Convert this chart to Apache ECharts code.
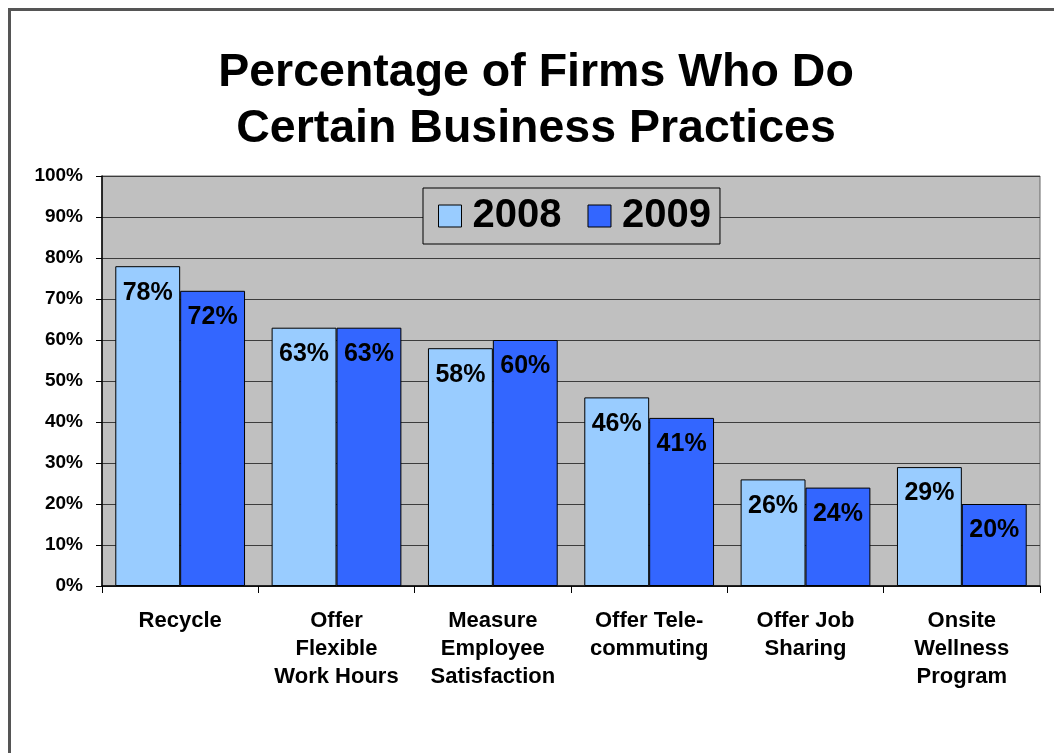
<!DOCTYPE html>
<html>
<head>
<meta charset="utf-8">
<script src="https://cdn.jsdelivr.net/npm/echarts@6/dist/echarts.min.js"></script>
<style>
  html, body { margin: 0; padding: 0; background: #ffffff; }
  #chart { width: 1054px; height: 753px; }
</style>
</head>
<body>
<div id="chart"></div>
<script>
// Survey results: share of firms following each business practice
const categories = [
  'Recycle',
  'Offer\nFlexible\nWork Hours',
  'Measure\nEmployee\nSatisfaction',
  'Offer Tele-\ncommuting',
  'Offer Job\nSharing',
  'Onsite\nWellness\nProgram'
];
const values2008 = [78, 63, 58, 46, 26, 29];
const values2009 = [72, 63, 60, 41, 24, 20];
const seriesNames = ['2008', '2009'];
const titleLines = ['Percentage of Firms Who Do', 'Certain Business Practices'];

const FONT = '"Liberation Sans", Arial, sans-serif';

const chart = echarts.init(document.getElementById('chart'), null, { renderer: 'canvas' });

const barLabel = {
  show: true,
  position: 'insideTop',
  distance: 14,
  formatter: '{c}%',
  color: '#000',
  fontFamily: FONT,
  fontWeight: 'bold',
  fontSize: 25
};

chart.setOption({
  backgroundColor: '#ffffff',
  animation: false,
  title: {
    text: titleLines.join('\n'),
    left: 531,
    textAlign: 'center',
    top: 40,
    textStyle: {
      fontFamily: FONT,
      fontWeight: 'bold',
      fontSize: 46.5,
      lineHeight: 56,
      color: '#000'
    }
  },
  graphic: [
    // page frame along the top and left edges
    { type: 'rect', shape: { x: 8, y: 8, width: 1046, height: 3 }, style: { fill: '#555555' }, z: 10 },
    { type: 'rect', shape: { x: 8, y: 8, width: 3, height: 745 }, style: { fill: '#555555' }, z: 10 }
  ],
  legend: {
    data: seriesNames,
    icon: 'rect',
    left: 423,
    top: 188,
    orient: 'horizontal',
    itemWidth: 23,
    itemHeight: 22,
    itemGap: 26,
    padding: [8, 9, 8, 15],
    backgroundColor: '#C0C0C0',
    borderColor: '#000',
    borderWidth: 1,
    itemStyle: { borderColor: '#000', borderWidth: 1 },
    textStyle: {
      fontFamily: FONT,
      fontWeight: 'bold',
      fontSize: 40,
      color: '#000',
      padding: [0, 0, 0, 6]
    }
  },
  grid: {
    left: 102,
    right: 14,
    top: 176,
    bottom: 167,
    show: true,
    backgroundColor: '#C0C0C0',
    borderColor: '#666',
    borderWidth: 1
  },
  xAxis: {
    type: 'category',
    data: categories,
    axisLine: { show: true, lineStyle: { color: '#000', width: 1.5 } },
    axisTick: { show: true, length: 7, lineStyle: { color: '#000' } },
    axisLabel: {
      interval: 0,
      margin: 21,
      fontFamily: FONT,
      fontWeight: 'bold',
      fontSize: 22,
      lineHeight: 28,
      color: '#000',
      align: 'center'
    }
  },
  yAxis: {
    type: 'value',
    min: 0,
    max: 100,
    interval: 10,
    axisLine: { show: true, lineStyle: { color: '#000', width: 1.5 } },
    axisTick: { show: true, length: 6, lineStyle: { color: '#000' } },
    axisLabel: {
      formatter: '{value}%',
      margin: 19,
      fontFamily: FONT,
      fontWeight: 'bold',
      fontSize: 19,
      color: '#000'
    },
    splitLine: { show: true, lineStyle: { color: '#3c3c3c', width: 1.2 } }
  },
  series: [
    {
      name: seriesNames[0],
      type: 'bar',
      data: values2008,
      barGap: '0%',
      barCategoryGap: '17%',
      itemStyle: { color: '#99CCFF', borderColor: '#000', borderWidth: 1 },
      label: barLabel
    },
    {
      name: seriesNames[1],
      type: 'bar',
      data: values2009,
      barGap: '0%',
      barCategoryGap: '17%',
      itemStyle: { color: '#3366FF', borderColor: '#000', borderWidth: 1 },
      label: barLabel
    }
  ]
});
</script>
</body>
</html>
